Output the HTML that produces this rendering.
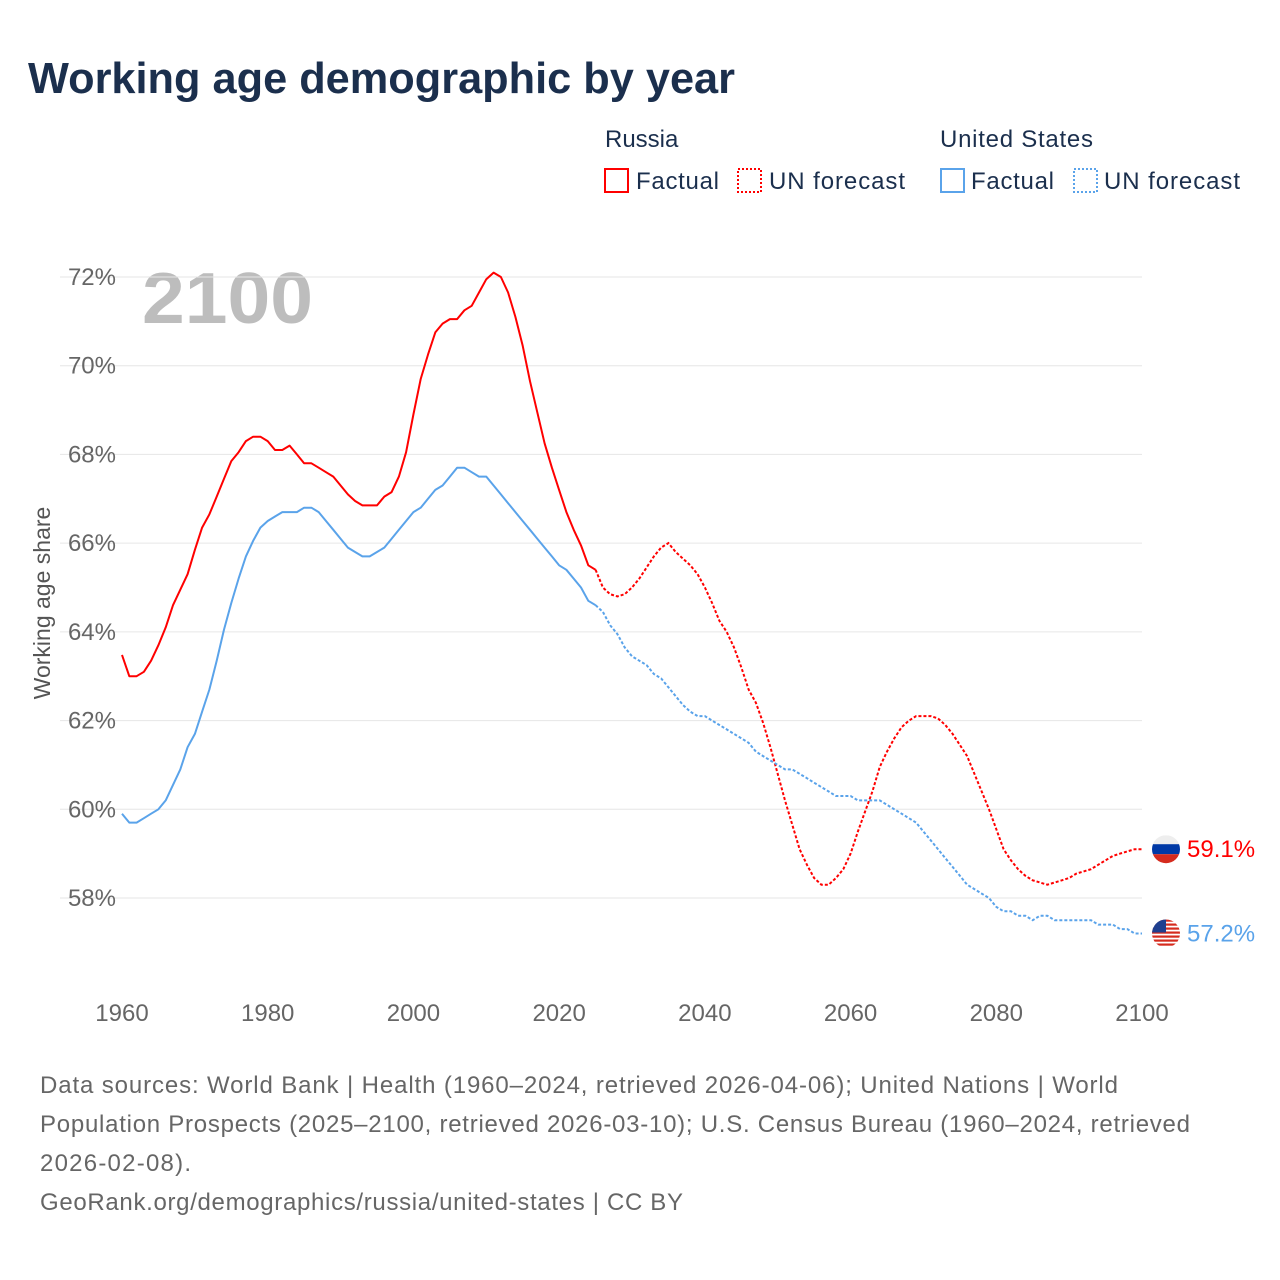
<!DOCTYPE html>
<html><head><meta charset="utf-8">
<style>
body{margin:0;background:#fff;font-family:"Liberation Sans",sans-serif;}
#wrap{position:relative;width:1280px;height:1280px;overflow:hidden;}
</style></head>
<body>
<div id="wrap">
<svg id="chart" width="1280" height="1280" font-family="Liberation Sans, sans-serif">
<text x="28" y="93" font-size="44" font-weight="bold" fill="#1b2f4d" textLength="707" lengthAdjust="spacingAndGlyphs">Working age demographic by year</text>
<g>
<text x="605" y="147" font-size="24" fill="#1b2f4d">Russia</text>
<rect x="605" y="169" width="23" height="23" fill="none" stroke="#f00" stroke-width="2"/>
<text x="636" y="189" font-size="24" fill="#1b2f4d" textLength="83">Factual</text>
<rect x="738" y="169" width="23" height="23" fill="none" stroke="#f00" stroke-width="2" stroke-dasharray="2,2"/>
<text x="769" y="189" font-size="24" fill="#1b2f4d" textLength="136">UN forecast</text>
<text x="940" y="147" font-size="24" fill="#1b2f4d" textLength="153">United States</text>
<rect x="941" y="169" width="23" height="23" fill="none" stroke="#5aa3ea" stroke-width="2"/>
<text x="971" y="189" font-size="24" fill="#1b2f4d" textLength="83">Factual</text>
<rect x="1074" y="169" width="23" height="23" fill="none" stroke="#5aa3ea" stroke-width="2" stroke-dasharray="2,2"/>
<text x="1104" y="189" font-size="24" fill="#1b2f4d" textLength="136">UN forecast</text>
</g>
<text x="142" y="323" font-size="72" font-weight="bold" fill="#bdbdbd" textLength="171" lengthAdjust="spacingAndGlyphs">2100</text>
<text transform="translate(50,603) rotate(-90)" text-anchor="middle" font-size="23" fill="#555">Working age share</text>
<g id="grid"></g><g id="series"></g>
<text x="40" y="1093" font-size="24" fill="#666" textLength="1078">Data sources: World Bank | Health (1960–2024, retrieved 2026-04-06); United Nations | World</text>
<text x="40" y="1132" font-size="24" fill="#666" textLength="1150">Population Prospects (2025–2100, retrieved 2026-03-10); U.S. Census Bureau (1960–2024, retrieved</text>
<text x="40" y="1171" font-size="24" fill="#666" textLength="151">2026-02-08).</text>
<text x="40" y="1210" font-size="24" fill="#666" textLength="643">GeoRank.org/demographics/russia/united-states | CC BY</text>
</svg>
</div>
<script>
const yTicks=[58,60,62,64,66,68,70,72];
const xTicks=[1960,1980,2000,2020,2040,2060,2080,2100];
const startYear=1960;
const forecastStart=2025;
const russia=[63.48,63.0,63.0,63.1,63.35,63.7,64.1,64.6,64.95,65.3,65.85,66.35,66.65,67.05,67.45,67.85,68.05,68.3,68.4,68.4,68.3,68.1,68.1,68.2,68.0,67.8,67.8,67.7,67.6,67.5,67.3,67.1,66.95,66.85,66.85,66.85,67.05,67.15,67.5,68.05,68.9,69.7,70.25,70.75,70.95,71.05,71.05,71.25,71.35,71.65,71.95,72.1,72.0,71.65,71.1,70.45,69.65,68.95,68.25,67.7,67.2,66.7,66.3,65.95,65.5,65.4,65.0,64.85,64.8,64.85,65.0,65.2,65.45,65.7,65.9,66.0,65.8,65.65,65.5,65.3,65.0,64.65,64.25,64.0,63.65,63.2,62.7,62.4,61.95,61.4,60.8,60.2,59.65,59.1,58.75,58.45,58.3,58.3,58.45,58.65,59.0,59.5,59.95,60.4,60.95,61.3,61.6,61.85,62.0,62.1,62.1,62.1,62.05,61.9,61.7,61.45,61.2,60.8,60.4,60.0,59.55,59.1,58.85,58.65,58.5,58.4,58.35,58.3,58.35,58.4,58.45,58.55,58.6,58.65,58.75,58.85,58.95,59.0,59.05,59.1,59.1];
const usa=[59.9,59.7,59.7,59.8,59.9,60.0,60.2,60.55,60.9,61.4,61.7,62.2,62.7,63.35,64.05,64.65,65.2,65.7,66.05,66.35,66.5,66.6,66.7,66.7,66.7,66.8,66.8,66.7,66.5,66.3,66.1,65.9,65.8,65.7,65.7,65.8,65.9,66.1,66.3,66.5,66.7,66.8,67.0,67.2,67.3,67.5,67.7,67.7,67.6,67.5,67.5,67.3,67.1,66.9,66.7,66.5,66.3,66.1,65.9,65.7,65.5,65.4,65.2,65.0,64.7,64.6,64.45,64.15,63.95,63.65,63.45,63.35,63.25,63.05,62.95,62.75,62.55,62.35,62.2,62.1,62.1,62.0,61.9,61.8,61.7,61.6,61.5,61.3,61.2,61.1,61.0,60.9,60.9,60.8,60.7,60.6,60.5,60.4,60.3,60.3,60.3,60.2,60.2,60.2,60.2,60.1,60.0,59.9,59.8,59.7,59.5,59.3,59.1,58.9,58.7,58.5,58.3,58.2,58.1,58.0,57.8,57.7,57.7,57.6,57.6,57.5,57.6,57.6,57.5,57.5,57.5,57.5,57.5,57.5,57.4,57.4,57.4,57.3,57.3,57.2,57.2];
const NS="http://www.w3.org/2000/svg";
const X=y=>122+(y-1960)*(1020/140);
const Y=v=>277+(72-v)*(621/14);
const grid=document.getElementById('grid'), ser=document.getElementById('series');
function mk(tag,attrs,parent){const e=document.createElementNS(NS,tag);for(const k in attrs)e.setAttribute(k,attrs[k]);parent.appendChild(e);return e;}
yTicks.forEach(t=>{
 const l=mk('line',{x1:60,x2:1142,y1:Y(t),y2:Y(t),stroke:'#e6e6e6','stroke-width':1},grid);
 
 
 const tx=mk('text',{x:116,y:Y(t)+8,'text-anchor':'end','font-size':24,fill:'#666'},grid);
 tx.textContent=t+'%';
 
 
});
xTicks.forEach(t=>{
 const tx=mk('text',{x:X(t),y:1021,'text-anchor':'middle','font-size':24,fill:'#666'},grid);
 tx.textContent=t;
 
 
});
function draw(arr,color,nm){
 const f=[],p=[];
 arr.forEach((v,i)=>{const yr=startYear+i;const pt=X(yr).toFixed(1)+','+Y(v).toFixed(1);if(yr<=forecastStart)f.push(pt);if(yr>=forecastStart)p.push(pt);});
 const a=mk('polyline',{points:f.join(' '),fill:'none',stroke:color,'stroke-width':2,'stroke-linejoin':'round'},ser);
 
 
 const b=mk('polyline',{points:p.join(' '),fill:'none',stroke:color,'stroke-width':2,'stroke-dasharray':'3,2'},ser);
 
 
}
draw(russia,'#f00','russia');
draw(usa,'#5aa3ea','us');
const rv=russia[russia.length-1], uv=usa[usa.length-1];
const rg=mk('g',{},ser);


const cx=1166, ry=Y(rv);
const cpr=mk('clipPath',{id:'cr'},rg);mk('circle',{cx:cx,cy:ry,r:14},cpr);
[['#eee',-14],['#0039a6',-5],['#d52b1e',5]].forEach(([c,o])=>mk('rect',{x:cx-14,y:ry+o,width:28,height:10,fill:c,'clip-path':'url(#cr)'},rg));
const rl=mk('text',{x:1187,y:ry+8,'font-size':24,fill:'#f00'},ser);
rl.textContent=rv.toFixed(1)+'%';


const ug=mk('g',{},ser);


const uy=Y(uv);
const cp=mk('clipPath',{id:'cu'},ug);mk('circle',{cx:cx,cy:uy,r:14},cp);
mk('rect',{x:cx-14,y:uy-14,width:28,height:28,fill:'#fff','clip-path':'url(#cu)'},ug);
for(let i=0;i<7;i++)mk('rect',{x:cx-14,y:uy-14+i*4,width:28,height:2.2,fill:'#d52b1e','clip-path':'url(#cu)'},ug);
mk('rect',{x:cx-14,y:uy-14,width:14,height:13,fill:'#1f3f8f','clip-path':'url(#cu)'},ug);
const ul=mk('text',{x:1187,y:uy+8,'font-size':24,fill:'#5aa3ea'},ser);
ul.textContent=uv.toFixed(1)+'%';


</script>
</body></html>
